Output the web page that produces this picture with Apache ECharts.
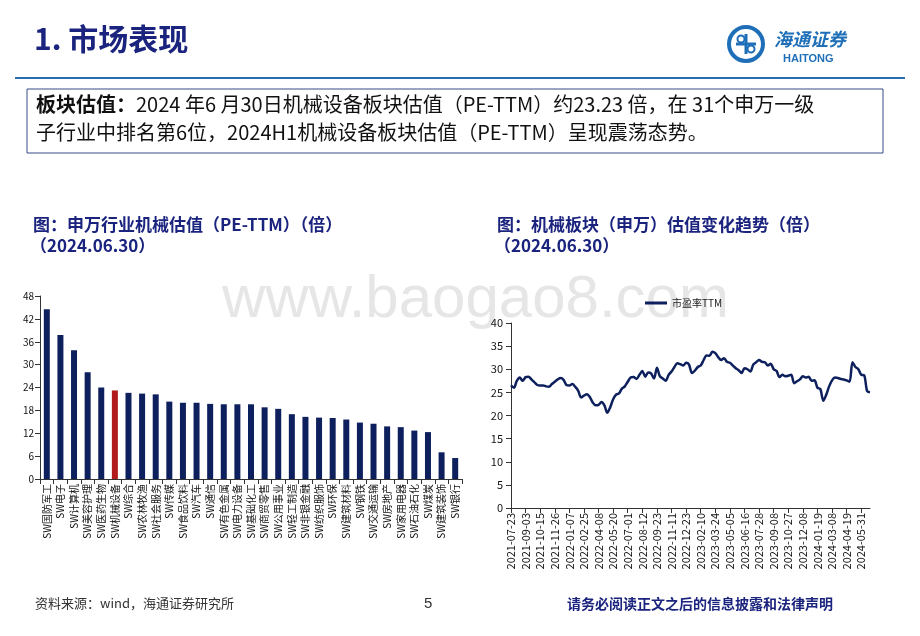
<!DOCTYPE html>
<html><head><meta charset="utf-8">
<script src="https://cdn.jsdelivr.net/npm/echarts@6/dist/echarts.min.js"></script>
<style>html,body{margin:0;padding:0;background:#fff}#main{width:920px;height:636px}</style>
</head><body><div id="main"></div>
<script>
// 申万一级行业 PE-TTM
const industries = ['SW国防军工','SW电子','SW计算机','SW美容护理','SW医药生物','SW机械设备','SW综合','SW农林牧渔','SW社会服务','SW传媒','SW食品饮料','SW汽车','SW通信','SW有色金属','SW电力设备','SW基础化工','SW商贸零售','SW公用事业','SW轻工制造','SW非银金融','SW纺织服饰','SW环保','SW建筑材料','SW钢铁','SW交通运输','SW房地产','SW家用电器','SW石油石化','SW煤炭','SW建筑装饰','SW银行']
const peValues = [44.5,37.8,33.8,28.0,24.0,23.23,22.6,22.4,22.2,20.3,20.0,20.0,19.7,19.6,19.6,19.6,18.8,18.4,17.0,16.3,16.1,16.0,15.6,14.8,14.5,13.8,13.6,12.7,12.3,7.0,5.5]
const leftTicks = [0,6,12,18,24,30,36,42,48]

// 机械板块 PE-TTM 走势
const tickDates = ['2021-07-23','2021-09-03','2021-10-15','2021-11-26','2022-01-07','2022-02-25','2022-04-08','2022-05-20','2022-07-01','2022-08-12','2022-09-23','2022-11-11','2022-12-23','2023-02-10','2023-03-24','2023-05-05','2023-06-16','2023-07-28','2023-09-08','2023-10-27','2023-12-08','2024-01-19','2024-03-08','2024-04-19','2024-05-31']
const trendValues = [
  26.5,26.0,27.5,28.2,27.5, 28.3,28.4,27.8,27.2,26.6, 26.5,26.5,26.3,26.2,26.8,
  27.3,27.8,28.1,27.7,26.6, 26.5,26.8,26.2,25.4,23.9, 24.3,24.6,24.0,22.8,22.2,
  22.3,22.9,22.2,20.6,21.8, 23.5,24.5,24.8,25.8,26.3, 27.3,28.2,28.3,27.9,28.8,
  29.6,28.4,29.3,29.1,28.0, 30.3,28.5,28.0,27.5,28.8, 29.5,30.5,31.3,31.1,30.8,
  31.4,31.0,29.2,29.7,30.5, 30.8,32.0,33.0,32.9,33.8, 33.5,32.6,32.0,32.4,31.6,
  31.4,30.8,30.2,29.8,29.2, 30.2,30.0,29.5,31.0,31.5, 32.0,31.6,31.5,30.8,31.2,
  30.0,29.6,28.3,28.8,28.5, 28.6,28.8,27.0,27.4,27.8, 28.5,28.2,28.4,27.5,27.6,
  26.0,25.7,23.2,24.5,26.3, 27.6,28.2,28.1,27.9,27.8, 27.6,27.3,31.5,30.5,30.0,
  28.8,28.7,25.3,25.0
]
const trendCats = trendValues.map((v, i) => (i % 5 === 0 && tickDates[i / 5]) ? tickDates[i / 5] : '')

const navy = '#0d1f5c'
const font = '"Noto Sans CJK SC", sans-serif'

const chart = echarts.init(document.getElementById('main'))
chart.setOption({
  animation: false,
  textStyle: { fontFamily: font },
  graphic: [
    { type: 'text', left: 222, top: 270, z: 0, style: { text: 'www.baogao8.com', font: '60px Arial', fill: '#e6e6e6' } },
    { type: 'text', left: 34, top: 24, style: { text: '1. 市场表现', font: 'bold 30px ' + font, fill: '#1a237e' } },
    // logo
    { type: 'circle', shape: { cx: 746, cy: 44, r: 17 }, style: { fill: 'none', stroke: '#1f6fb8', lineWidth: 4 } },
    { type: 'line', shape: { x1: 736, y1: 44, x2: 756, y2: 44 }, style: { stroke: '#1f6fb8', lineWidth: 3 } },
    { type: 'line', shape: { x1: 746, y1: 34, x2: 746, y2: 54 }, style: { stroke: '#1f6fb8', lineWidth: 3 } },
    { type: 'circle', shape: { cx: 741, cy: 39, r: 3.5 }, style: { fill: 'none', stroke: '#1f6fb8', lineWidth: 2 } },
    { type: 'circle', shape: { cx: 751, cy: 49, r: 3.5 }, style: { fill: 'none', stroke: '#1f6fb8', lineWidth: 2 } },
    { type: 'text', left: 774, top: 30, style: { text: '海通证券', font: 'italic bold 18px ' + font, fill: '#1f6fb8' } },
    { type: 'text', left: 783, top: 53, style: { text: 'HAITONG', font: 'bold 11px Arial', fill: '#1f6fb8' } },
    { type: 'line', shape: { x1: 15, y1: 78, x2: 905, y2: 78 }, style: { stroke: '#2a6db3', lineWidth: 2 } },
    { type: 'rect', shape: { x: 27, y: 89, width: 856, height: 64 }, style: { fill: 'none', stroke: '#3a4a8a', lineWidth: 1 } },
    { type: 'text', left: 36, top: 94, style: { rich: { b: { font: 'bold 20px ' + font, fill: '#111' }, n: { font: '20px ' + font, fill: '#111' } }, text: '{b|板块估值：}{n|2024 年6 月30日机械设备板块估值（PE-TTM）约23.23 倍，在 31个申万一级}' } },
    { type: 'text', left: 36, top: 122, style: { text: '子行业中排名第6位，2024H1机械设备板块估值（PE-TTM）呈现震荡态势。', font: '20px ' + font, fill: '#111' } },
    { type: 'text', left: 33, top: 216, style: { text: '图：申万行业机械估值（PE-TTM）（倍）', font: 'bold 17px ' + font, fill: '#1a237e' } },
    { type: 'text', left: 30, top: 237, style: { text: '（2024.06.30）', font: 'bold 17px ' + font, fill: '#1a237e' } },
    { type: 'text', left: 497, top: 216, style: { text: '图：机械板块（申万）估值变化趋势（倍）', font: 'bold 17px ' + font, fill: '#1a237e' } },
    { type: 'text', left: 494, top: 237, style: { text: '（2024.06.30）', font: 'bold 17px ' + font, fill: '#1a237e' } },
    { type: 'text', left: 35, top: 597, style: { text: '资料来源：wind，海通证券研究所', font: '13px ' + font, fill: '#333' } },
    { type: 'text', left: 424, top: 596, style: { text: '5', font: '15px Arial', fill: '#333' } },
    { type: 'text', left: 567, top: 597, style: { text: '请务必阅读正文之后的信息披露和法律声明', font: 'bold 14px ' + font, fill: '#1a237e' } }
  ],
  legend: {
    data: ['市盈率TTM'], left: 640, top: 293, itemWidth: 22, itemHeight: 3,
    icon: 'rect', textStyle: { fontSize: 10, color: '#222' }
  },
  grid: [
    { left: 40, right: 458, top: 296, bottom: 157 },
    { left: 511, right: 50, top: 323, bottom: 128 }
  ],
  xAxis: [
    {
      gridIndex: 0, type: 'category', data: industries,
      axisLine: { lineStyle: { color: '#333' } },
      axisTick: { show: true, lineStyle: { color: '#333' } },
      axisLabel: { rotate: 90, interval: 0, fontSize: 10, color: '#111', margin: 5 }
    },
    {
      gridIndex: 1, type: 'category', data: trendCats, boundaryGap: false,
      axisLine: { lineStyle: { color: '#333' } },
      axisTick: { interval: 4, lineStyle: { color: '#333' } },
      axisLabel: { rotate: 90, interval: 4, fontSize: 11, color: '#111', margin: 5 }
    }
  ],
  yAxis: [
    {
      gridIndex: 0, type: 'value', min: leftTicks[0], max: leftTicks[leftTicks.length - 1], interval: 6,
      splitLine: { show: false },
      axisLine: { show: true, lineStyle: { color: '#333' } },
      axisTick: { show: true, lineStyle: { color: '#333' } },
      axisLabel: { fontSize: 10, color: '#111', margin: 6 }
    },
    {
      gridIndex: 1, type: 'value', min: 0, max: 40, interval: 5,
      splitLine: { show: false },
      axisLine: { show: true, lineStyle: { color: '#333' } },
      axisTick: { show: true, lineStyle: { color: '#333' } },
      axisLabel: { fontSize: 11, color: '#111', margin: 8 }
    }
  ],
  series: [
    {
      type: 'bar', xAxisIndex: 0, yAxisIndex: 0, barWidth: 6,
      data: peValues.map((v, i) => ({
        value: v,
        itemStyle: { color: industries[i] === 'SW机械设备' ? '#b01a1a' : navy }
      }))
    },
    {
      name: '市盈率TTM', type: 'line', xAxisIndex: 1, yAxisIndex: 1,
      data: trendValues, symbol: 'none', smooth: 0.3,
      lineStyle: { color: navy, width: 2.5 }, itemStyle: { color: navy }
    }
  ]
})
</script>
</body></html>
